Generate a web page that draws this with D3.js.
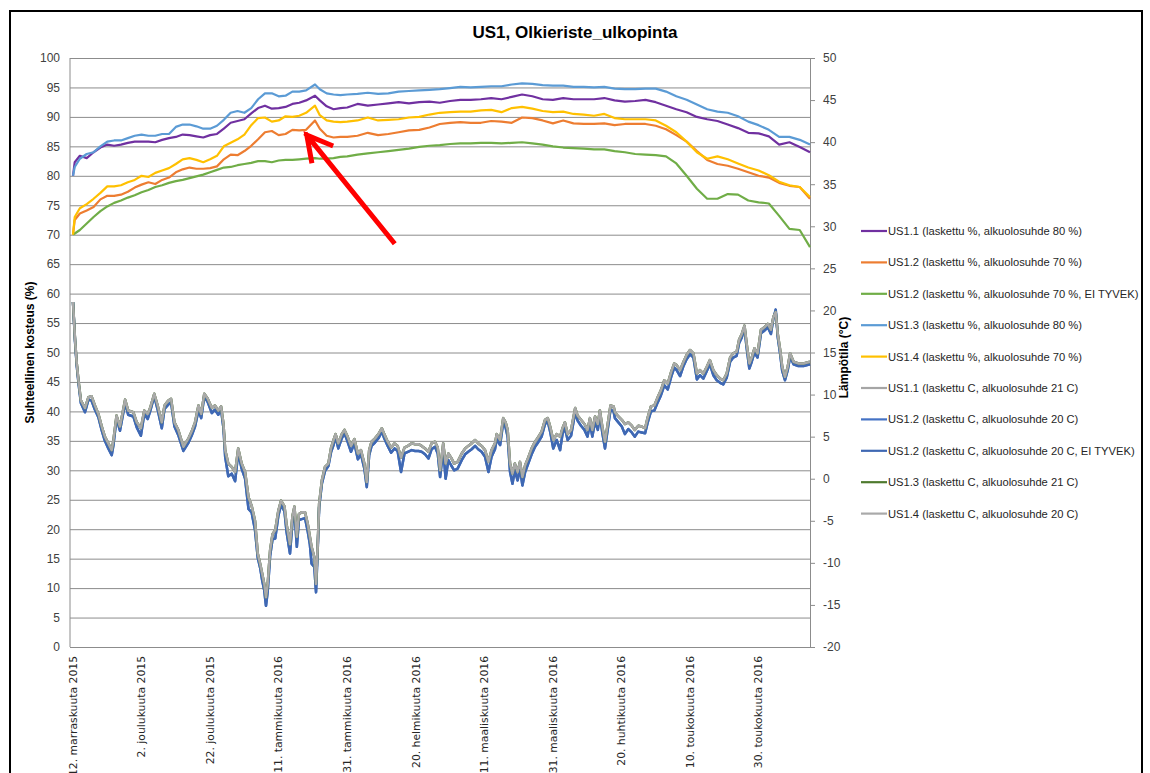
<!DOCTYPE html>
<html>
<head>
<meta charset="utf-8">
<script src="https://cdn.jsdelivr.net/npm/d3@7"></script>
<style>
  body { margin: 0; background: #fff; }
  svg { display: block; font-family: "Liberation Sans", Arial, sans-serif; }
</style>
</head>
<body>
<svg width="1150" height="773"></svg>
<script>
// Data: day offsets from 12 Nov 2015
const humDay = [0, 0.5, 2, 4, 6, 8, 10, 12, 14, 16, 18, 20, 22, 24, 26, 28, 30, 32, 34, 36,
  38, 40, 42, 44, 46, 48, 50, 52, 54, 56, 58, 60, 62, 64, 66, 68, 70.6, 72, 74, 76, 78, 80,
  83, 86, 89, 92, 95, 98, 101, 104, 107, 110, 113, 116, 119, 122, 125, 128, 131, 134, 137,
  140, 143, 146, 149, 152, 155, 158, 161, 164, 167, 170, 173, 176, 179, 182, 185, 188, 191,
  194, 197, 200, 203, 206, 209, 212, 215];

// relative humidity (%) - left axis
const rhUS11 = [80.0, 82.3, 83.4, 83.0, 84.0, 84.8, 85.3, 85.1, 85.3, 85.6, 85.8, 85.8, 85.8, 85.7, 86.1, 86.4, 86.6, 87.0, 86.9, 86.7,
  86.5, 86.9, 87.1, 88.0, 89.0, 89.3, 89.6, 90.6, 91.5, 91.9, 91.4, 91.5, 91.7, 92.2, 92.4, 92.8, 93.6, 92.8, 91.8, 91.3, 91.5, 91.6,
  92.2, 91.9, 92.1, 92.3, 92.5, 92.3, 92.5, 92.6, 92.4, 92.7, 92.9, 92.9, 93.0, 93.2, 93.0, 93.4, 93.8, 93.5, 93.0,
  92.9, 93.2, 93.0, 93.0, 93.0, 93.2, 92.8, 92.6, 92.7, 92.9, 92.5, 91.9, 91.3, 90.8, 90.0, 89.6, 89.3, 88.7,
  88.1, 87.3, 87.2, 86.7, 85.3, 85.7, 84.9, 84.0];
const rhUS12 = [70.0, 72.5, 73.6, 74.1, 74.7, 76.0, 76.6, 76.6, 76.8, 77.3, 78.0, 78.5, 78.9, 78.6, 79.3, 79.7, 80.6, 81.1, 81.4, 81.2,
  81.2, 81.3, 81.6, 82.8, 83.6, 83.5, 84.2, 85.1, 86.2, 87.4, 87.6, 86.9, 87.1, 87.8, 87.7, 87.8, 89.4, 88.0, 86.8, 86.5, 86.6, 86.6,
  86.8, 87.3, 86.9, 87.1, 87.4, 87.7, 87.8, 88.2, 88.8, 89.0, 89.1, 89.0, 89.0, 89.3, 89.2, 89.0, 89.9, 89.8, 89.4,
  88.9, 89.4, 88.9, 88.8, 88.8, 88.9, 88.6, 88.8, 88.8, 88.8, 88.5, 87.9, 86.9, 85.8, 84.2, 82.7, 82.0, 81.7,
  81.2, 80.6, 80.0, 79.7, 78.8, 78.3, 78.1, 76.1];
const rhUS12ei = [70.0, 70.2, 70.8, 71.9, 73.0, 74.0, 74.8, 75.4, 75.8, 76.3, 76.7, 77.2, 77.6, 78.1, 78.4, 78.8, 79.1, 79.3, 79.6, 79.9,
  80.2, 80.6, 81.0, 81.4, 81.5, 81.8, 82.0, 82.2, 82.5, 82.5, 82.3, 82.6, 82.7, 82.7, 82.8, 82.9, 83.0, 82.9, 82.9, 83.0, 83.2, 83.3,
  83.6, 83.8, 84.0, 84.2, 84.4, 84.6, 84.9, 85.1, 85.2, 85.4, 85.5, 85.5, 85.6, 85.6, 85.5, 85.6, 85.7, 85.5, 85.3,
  85.0, 84.8, 84.7, 84.6, 84.5, 84.5, 84.2, 84.0, 83.7, 83.6, 83.5, 83.3, 82.1, 80.0, 77.8, 76.1, 76.1, 76.9,
  76.8, 75.8, 75.5, 75.3, 73.2, 71.0, 70.8, 67.9];
const rhUS13 = [80.0, 81.5, 82.9, 83.7, 84.0, 85.0, 85.8, 86.0, 86.0, 86.4, 86.8, 87.0, 86.8, 86.8, 87.1, 87.1, 88.3, 88.7, 88.7, 88.4,
  88.0, 88.0, 88.5, 89.5, 90.7, 91.0, 90.7, 91.5, 93.0, 94.0, 94.0, 93.5, 93.6, 94.3, 94.3, 94.5, 95.5, 94.7, 94.0, 93.8, 93.7, 93.8,
  93.9, 94.1, 93.9, 94.0, 94.3, 94.4, 94.5, 94.6, 94.7, 94.9, 95.1, 95.0, 95.1, 95.2, 95.2, 95.5, 95.7, 95.6, 95.4,
  95.3, 95.3, 95.1, 95.1, 95.0, 95.1, 94.8, 94.7, 94.7, 94.8, 94.8, 94.3, 93.5, 92.9, 92.1, 91.3, 90.9, 90.7,
  90.1, 89.2, 88.6, 87.8, 86.6, 86.6, 86.1, 85.3];
const rhUS14 = [70.0, 73.0, 74.5, 75.2, 76.1, 77.1, 78.2, 78.2, 78.4, 78.9, 79.3, 80.0, 79.8, 80.5, 80.9, 81.3, 82.0, 82.8, 83.0, 82.7,
  82.3, 82.8, 83.4, 85.0, 85.6, 86.2, 87.0, 88.6, 89.8, 89.9, 89.2, 89.4, 90.1, 90.0, 90.2, 90.7, 91.9, 90.3, 89.4, 89.2, 89.1, 89.2,
  89.4, 89.9, 89.4, 89.5, 89.6, 89.9, 90.0, 90.4, 90.7, 90.8, 90.9, 90.9, 91.1, 91.2, 90.8, 91.5, 91.7, 91.4, 91.0,
  90.8, 90.9, 90.5, 90.4, 90.2, 90.5, 89.8, 89.6, 89.6, 89.6, 89.4, 88.5, 87.4, 85.8, 84.0, 82.9, 83.3, 82.8,
  82.1, 81.4, 80.9, 80.1, 79.0, 78.4, 78.1, 76.4];

// temperature (°C) - right axis
const tempDay = [0, 0.6, 1.1, 1.6, 2.3, 3.5, 4.5, 5.4, 6.4, 7.4, 8.4, 9.3, 10.3, 11.3, 11.8, 12.7, 13.7, 15.2, 16.1, 17.6,
  18.6, 19.8, 20.8, 21.8, 22.5, 23.7, 24.7, 25.9, 26.7, 27.8, 28.6, 29.6, 30.7, 32.2, 33.7, 34.6, 35.6, 36.6, 37.4, 38.3,
  39.3, 40.5, 41.4, 42.4, 43.2, 43.9, 44.4, 45.3, 46.3, 47.3, 48.2, 49.2, 50.2, 51.2, 52.1, 53.1, 53.9, 54.6, 55.2, 55.8,
  56.3, 56.8, 57.5, 58.2, 59.0, 59.9, 60.7, 61.7, 62.3, 63.3, 64.0, 64.6, 65.3, 65.9, 66.7, 67.7, 68.5, 69.1, 69.6, 70.4,
  70.9, 71.4, 71.8, 72.6, 73.5, 74.5, 75.3, 76.0, 76.6, 77.4, 78.4, 79.2, 80.1, 81.1, 82.1, 83.1, 84.0, 85.0, 85.7, 86.4,
  87.1, 88.1, 89.1, 90.1, 90.8, 91.8, 92.8, 93.8, 94.7, 95.7, 96.7, 97.7, 98.8, 99.8, 100.8, 101.7, 102.7, 103.7, 104.6, 105.6,
  106.4, 107.1, 108.0, 108.7, 109.5, 110.3, 111.2, 112.2, 113.4, 114.4, 115.3, 116.3, 117.3, 118.2, 119.2, 120.2, 121.2, 122.1, 123.1, 123.6,
  124.6, 125.5, 126.2, 126.8, 127.5, 128.2, 128.9, 129.7, 130.4, 131.1, 131.9, 132.8, 133.8, 134.8, 135.8, 136.7, 137.7, 138.5, 139.2, 140.1,
  141.1, 142.1, 142.8, 143.5, 144.3, 145.3, 146.5, 147.2, 148.2, 149.2, 150.1, 150.8, 151.5, 152.3, 153.1, 153.7, 154.4, 155.2, 156.0, 156.8,
  157.7, 158.1, 159.1, 160.1, 161.0, 162.0, 163.0, 163.9, 164.9, 165.9, 166.9, 167.6, 168.6, 169.6, 170.6, 171.5, 172.5, 173.5, 174.5, 175.4,
  176.1, 177.1, 178.1, 179.0, 180.0, 181.0, 182.0, 182.9, 183.9, 184.9, 185.8, 186.8, 187.8, 188.8, 189.7, 190.7, 191.7, 192.6, 193.6, 194.3,
  195.1, 195.9, 196.5, 197.3, 198.0, 198.8, 199.7, 200.7, 201.7, 202.7, 203.6, 204.3, 205.0, 205.6, 206.3, 206.9, 207.7, 208.5, 209.2, 210.2,
  211.6, 213.1, 215.0];
const tempGray = [21.0, 16.5, 13.7, 11.7, 9.3, 8.4, 9.7, 9.8, 8.7, 7.7, 6.2, 5.0, 4.2, 3.4, 4.6, 7.5, 6.2, 9.4, 8.1, 7.9,
  6.7, 6.0, 8.1, 7.7, 8.4, 10.1, 8.7, 6.7, 8.7, 9.3, 9.5, 6.7, 5.8, 3.8, 4.8, 5.6, 6.7, 8.7, 7.7, 10.1,
  9.5, 8.4, 8.7, 8.1, 8.6, 6.5, 3.4, 1.8, 1.4, 0.8, 3.6, 1.8, 0.8, -2.2, -3.2, -5.0, -8.9, -10.1, -11.3, -12.5,
  -14.1, -12.5, -8.5, -6.6, -6.1, -3.8, -2.6, -3.3, -5.4, -7.8, -4.5, -3.3, -6.9, -4.2, -4.0, -4.0, -5.4, -6.9, -8.1, -9.3,
  -12.5, -7.8, -3.0, -0.2, 1.4, 1.8, 3.7, 4.6, 5.3, 4.2, 5.3, 5.8, 5.0, 3.9, 4.7, 3.0, 3.4, 1.8, -0.4, 3.4,
  4.4, 4.8, 5.3, 6.0, 5.3, 4.4, 3.7, 4.2, 3.9, 2.5, 3.7, 3.9, 4.2, 4.1, 4.1, 3.9, 3.6, 3.2, 4.2, 4.4,
  3.7, 1.0, 4.2, 1.8, 3.0, 2.5, 1.8, 2.0, 3.0, 3.6, 3.9, 4.2, 4.6, 4.2, 3.9, 3.4, 2.0, 3.4, 4.2, 5.3,
  4.6, 7.2, 6.7, 5.8, 1.8, 0.6, 1.8, 0.8, 2.0, 0.2, 1.6, 2.5, 3.6, 4.4, 5.0, 5.6, 7.0, 7.2, 6.2, 4.6,
  5.3, 5.0, 6.0, 6.7, 5.3, 5.8, 8.4, 7.5, 7.0, 6.5, 5.8, 7.2, 5.8, 7.4, 6.5, 8.1, 6.2, 4.4, 6.5, 8.7,
  8.6, 7.9, 7.4, 7.0, 6.5, 6.7, 6.3, 5.8, 6.3, 6.2, 6.0, 7.2, 8.6, 8.7, 9.7, 10.5, 11.7, 11.3, 12.7, 13.7,
  13.5, 12.9, 13.9, 14.7, 15.3, 14.9, 12.5, 12.9, 12.5, 13.3, 14.1, 12.9, 12.3, 11.9, 11.7, 12.5, 14.4, 14.9, 15.1, 16.5,
  17.2, 18.2, 16.1, 13.7, 14.4, 15.5, 14.9, 17.7, 18.0, 18.4, 17.7, 19.2, 19.8, 17.2, 15.3, 13.3, 12.1, 13.3, 14.9, 13.9,
  13.7, 13.7, 13.9];
const tempBlue = [21.0, 16.3, 13.4, 11.4, 9.0, 7.9, 9.4, 9.3, 8.2, 7.3, 5.7, 4.5, 3.6, 2.8, 4.0, 7.2, 5.7, 9.0, 7.6, 7.4,
  6.1, 5.1, 7.7, 7.1, 8.0, 9.8, 8.2, 6.0, 8.3, 8.8, 9.1, 6.2, 5.2, 3.3, 4.3, 5.1, 6.2, 8.1, 7.2, 9.8,
  9.1, 7.8, 8.2, 7.6, 8.2, 6.0, 2.6, 0.3, 0.6, -0.3, 3.1, 1.2, 0.0, -3.6, -4.0, -6.1, -9.4, -10.6, -12.1, -13.3,
  -15.1, -13.4, -9.2, -7.2, -7.1, -4.4, -3.1, -3.9, -6.3, -8.9, -5.3, -3.8, -8.1, -4.9, -4.8, -4.7, -6.3, -7.8, -10.1, -10.5,
  -13.5, -8.3, -3.4, -0.6, 0.9, 1.5, 3.2, 4.0, 5.0, 3.6, 4.8, 5.4, 4.4, 3.2, 4.2, 2.3, 2.9, 1.2, -1.0, 2.8,
  3.9, 4.3, 4.8, 5.6, 4.8, 3.9, 3.1, 3.6, 3.3, 0.8, 3.0, 3.2, 3.4, 3.3, 3.3, 3.2, 2.9, 2.4, 3.5, 3.8,
  3.0, 0.2, 3.5, 0.0, 2.2, 1.6, 1.0, 1.2, 2.2, 2.9, 3.2, 3.5, 3.9, 3.5, 3.2, 2.6, 0.8, 2.6, 3.5, 4.7,
  4.0, 6.7, 6.1, 5.0, 0.8, -0.6, 1.0, -0.2, 1.2, -0.8, 0.8, 1.8, 2.9, 3.8, 4.4, 5.0, 6.5, 6.8, 5.6, 3.6,
  4.6, 3.4, 5.3, 6.1, 4.6, 5.1, 7.9, 6.9, 6.3, 5.8, 5.0, 6.6, 5.0, 6.8, 5.8, 7.6, 5.5, 3.6, 5.9, 8.2,
  8.0, 7.2, 6.7, 6.2, 5.3, 5.9, 5.5, 5.0, 5.6, 5.5, 5.4, 6.6, 8.0, 8.1, 9.1, 9.9, 11.1, 10.6, 12.1, 13.2,
  12.9, 12.2, 13.4, 14.2, 14.8, 14.4, 11.8, 12.3, 11.9, 12.8, 13.6, 12.3, 11.7, 11.4, 11.2, 12.0, 13.9, 14.4, 14.6, 16.1,
  16.8, 17.9, 15.6, 13.1, 13.9, 15.0, 14.4, 17.3, 17.6, 18.0, 17.2, 19.0, 20.1, 16.8, 14.8, 12.8, 11.7, 12.9, 14.5, 13.6,
  13.4, 13.4, 13.6];

const seriesNames = [
  "US1.1 (laskettu %, alkuolosuhde 80 %)",
  "US1.2 (laskettu %, alkuolosuhde 70 %)",
  "US1.2 (laskettu %, alkuolosuhde 70 %, EI TYVEK)",
  "US1.3 (laskettu %, alkuolosuhde 80 %)",
  "US1.4 (laskettu %, alkuolosuhde 70 %)",
  "US1.1 (laskettu C, alkuolosuhde 21 C)",
  "US1.2 (laskettu C, alkuolosuhde 20 C)",
  "US1.2 (laskettu C, alkuolosuhde 20 C, EI TYVEK)",
  "US1.3 (laskettu C, alkuolosuhde 21 C)",
  "US1.4 (laskettu C, alkuolosuhde 20 C)"
];
const seriesColors = ["#7030A0", "#ED7D31", "#70AD47", "#5B9BD5", "#FFC000",
  "#A5A5A5", "#4472C4", "#3F68B3", "#4E7A2E", "#A9A9A9"];

const xTickDates = ["2015-11-12", "2015-12-02", "2015-12-22", "2016-01-11", "2016-01-31", "2016-02-20",
  "2016-03-11", "2016-03-31", "2016-04-20", "2016-05-10", "2016-05-30"];
const xTickLabels = ["12. marraskuuta 2015", "2. joulukuuta 2015", "22. joulukuuta 2015", "11. tammikuuta 2016",
  "31. tammikuuta 2016", "20. helmikuuta 2016", "11. maaliskuuta 2016", "31. maaliskuuta 2016",
  "20. huhtikuuta 2016", "10. toukokuuta 2016", "30. toukokuuta 2016"];

// arrow annotation (day, %) : tail -> head
const arrowFrom = [93.4, 68.8];
const arrowTo = [68.2, 86.9];

// ---- setup
const svg = d3.select("svg");
const plot = { left: 70, right: 810, top: 58, bottom: 647 };
const day0 = Date.UTC(2015, 10, 12);
const toDate = d => new Date(day0 + d * 864e5);

const x = d3.scaleUtc()
  .domain([Date.UTC(2015, 10, 11, 3), Date.UTC(2016, 5, 14)])
  .range([plot.left, plot.right]);
const yL = d3.scaleLinear().domain([0, 100]).range([plot.bottom, plot.top]);
const yR = d3.scaleLinear().domain([-20, 50]).range([plot.bottom, plot.top]);

// outer frame
svg.append("rect")
  .attr("x", 10).attr("y", 11).attr("width", 1132).attr("height", 800)
  .attr("fill", "#fff").attr("stroke", "#000").attr("stroke-width", 2);

// title
svg.append("text")
  .attr("x", 575).attr("y", 38)
  .attr("text-anchor", "middle")
  .attr("font-size", 17).attr("font-weight", "bold")
  .text("US1, Olkieriste_ulkopinta");

// gridlines + left axis
const leftAxis = svg.append("g")
  .attr("transform", `translate(${plot.left},0)`)
  .call(d3.axisLeft(yL).tickValues(d3.range(0, 101, 5))
    .tickSize(-(plot.right - plot.left)).tickPadding(10));
leftAxis.select(".domain").remove();
leftAxis.selectAll(".tick line").attr("stroke", "#8c8c8c");
leftAxis.selectAll(".tick text")
  .attr("font-family", "Liberation Sans, Arial, sans-serif")
  .attr("font-size", 12).attr("fill", "#404040");

svg.append("line")
  .attr("x1", plot.left).attr("x2", plot.left)
  .attr("y1", plot.top).attr("y2", plot.bottom)
  .attr("stroke", "#8c8c8c");

// right axis (plain hyphen minus like the original)
const rightAxis = svg.append("g")
  .attr("transform", `translate(${plot.right},0)`)
  .call(d3.axisRight(yR).tickValues(d3.range(-20, 51, 5))
    .tickFormat(d => String(d)).tickSize(5).tickPadding(8));
rightAxis.select(".domain").attr("stroke", "#8c8c8c");
rightAxis.selectAll(".tick line").attr("stroke", "#8c8c8c");
rightAxis.selectAll(".tick text")
  .attr("font-family", "Liberation Sans, Arial, sans-serif")
  .attr("font-size", 12).attr("fill", "#404040");

// x labels (bottom of the long ones runs off the page, as in the original)
svg.append("g").selectAll("text")
  .data(xTickDates)
  .join("text")
  .attr("transform", d => `translate(${x(new Date(d + "T00:00:00Z"))},656) rotate(-90)`)
  .attr("dy", "0.35em")
  .attr("text-anchor", "end")
  .attr("font-family", "DejaVu Sans, sans-serif")
  .attr("font-size", 10.8).attr("fill", "#262626")
  .text((d, i) => xTickLabels[i]);

// axis titles
svg.append("text")
  .attr("transform", `translate(34,${(plot.top + plot.bottom) / 2}) rotate(-90)`)
  .attr("text-anchor", "middle")
  .attr("font-size", 12).attr("font-weight", "bold")
  .text("Suhteellinen kosteus (%)");
svg.append("text")
  .attr("transform", `translate(848,${(plot.top + plot.bottom) / 2 + 5}) rotate(-90)`)
  .attr("text-anchor", "middle")
  .attr("font-size", 12).attr("font-weight", "bold")
  .text("Lämpötila (°C)");

// lines
const lineL = d3.line().x(d => x(toDate(d[0]))).y(d => yL(d[1]));
const lineR = d3.line().x(d => x(toDate(d[0]))).y(d => yR(d[1]));

const rhSeries = [rhUS11, rhUS12, rhUS12ei, rhUS13, rhUS14];
const tSeries = [tempGray, tempBlue, tempBlue, tempGray, tempGray];

const lines = svg.append("g");
rhSeries.forEach((vals, i) => {
  lines.append("path")
    .datum(humDay.map((d, j) => [d, vals[j]]))
    .attr("fill", "none")
    .attr("stroke", seriesColors[i])
    .attr("stroke-width", 2.2)
    .attr("stroke-linejoin", "round")
    .attr("d", lineL);
});
tSeries.forEach((vals, i) => {
  lines.append("path")
    .datum(tempDay.map((d, j) => [d, vals[j]]))
    .attr("fill", "none")
    .attr("stroke", seriesColors[i + 5])
    .attr("stroke-width", 2.5)
    .attr("stroke-linejoin", "round")
    .attr("d", lineR);
});

// legend
const legend = svg.append("g").attr("transform", "translate(861,231)");
const li = legend.selectAll("g")
  .data(seriesNames)
  .join("g")
  .attr("transform", (d, i) => `translate(0,${i * 31.4})`);
li.append("line")
  .attr("x1", 0).attr("x2", 26)
  .attr("stroke", (d, i) => seriesColors[i])
  .attr("stroke-width", 2.2);
li.append("text")
  .attr("x", 27).attr("dy", "0.35em")
  .attr("font-size", 11.2).attr("fill", "#262626")
  .text(d => d);

// red arrow
const ax0 = x(toDate(arrowFrom[0])), ay0 = yL(arrowFrom[1]);
const ax1 = x(toDate(arrowTo[0])), ay1 = yL(arrowTo[1]);
const ang = Math.atan2(ay0 - ay1, ax0 - ax1);
const wing = 26, spread = 0.5;
const arrowPath = d3.path();
arrowPath.moveTo(ax0, ay0);
arrowPath.lineTo(ax1, ay1);
arrowPath.moveTo(ax1 + wing * Math.cos(ang - spread), ay1 + wing * Math.sin(ang - spread));
arrowPath.lineTo(ax1, ay1);
arrowPath.lineTo(ax1 + wing * Math.cos(ang + spread), ay1 + wing * Math.sin(ang + spread));
svg.append("path")
  .attr("d", arrowPath.toString())
  .attr("fill", "none")
  .attr("stroke", "#FF0000")
  .attr("stroke-width", 5)
  .attr("stroke-linecap", "square")
  .attr("stroke-linejoin", "miter");
</script>
</body>
</html>
